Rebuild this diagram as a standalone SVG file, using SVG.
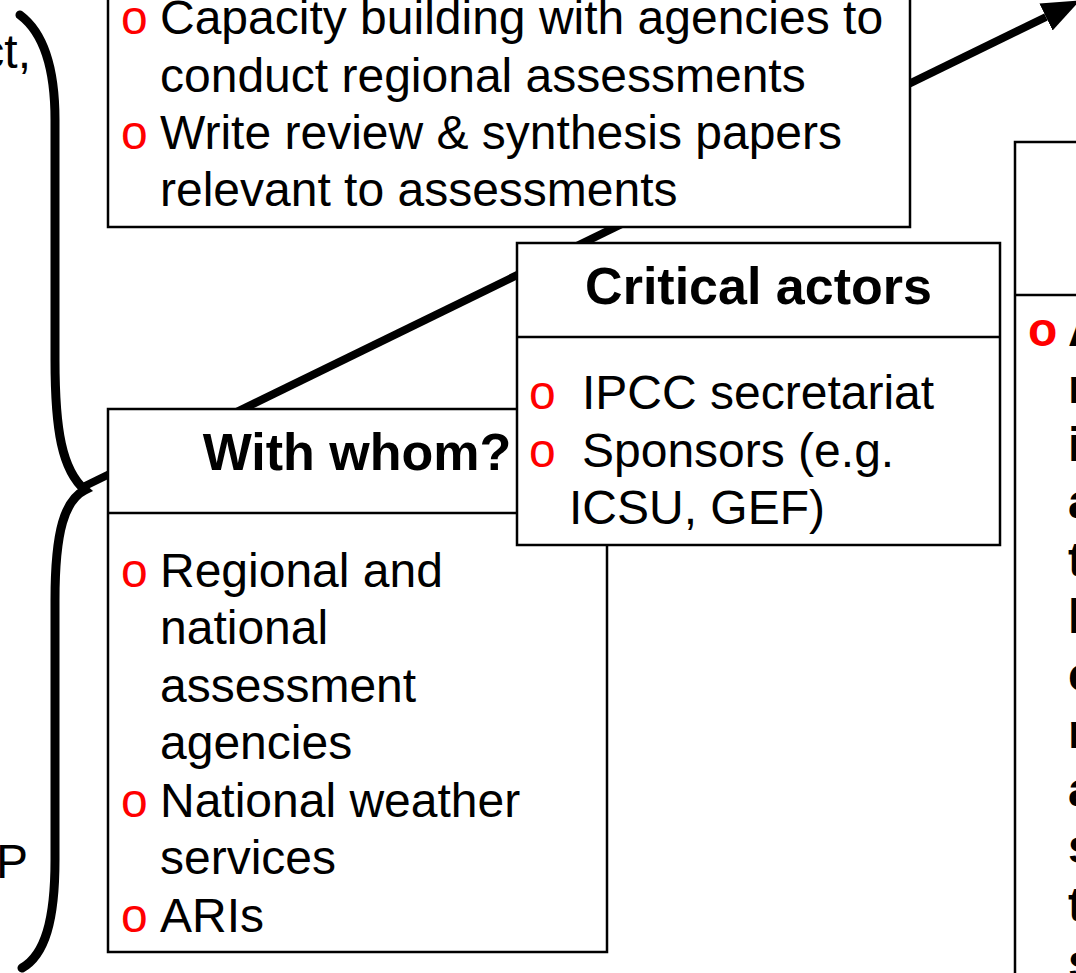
<svg xmlns="http://www.w3.org/2000/svg" width="1076" height="973" viewBox="0 0 1076 973">
<style>
.box{fill:#fff;stroke:#000;stroke-width:2.5}
.t{font-family:"Liberation Sans",Arial,sans-serif;font-size:48px;fill:#000}
.h{font-family:"Liberation Sans",Arial,sans-serif;font-size:52px;font-weight:bold;fill:#000;text-anchor:middle}
.b{font-family:"Liberation Sans",Arial,sans-serif;font-size:48px;fill:#f00}
.bold{font-weight:bold}
.brace{fill:none;stroke:#000;stroke-width:9;stroke-linecap:round}
</style>
<defs>
<marker id="ah" markerUnits="userSpaceOnUse" markerWidth="60" markerHeight="60" viewBox="0 -30 60 60" refX="0" refY="0" orient="auto">
<path d="M0,-15 L38,0 L0,15 z" fill="#000"/>
</marker>
</defs>
<g id="side-text">
<text class="t" x="31" y="68" text-anchor="end">ct,</text>
<text class="t" x="-4" y="878">P</text>
</g>
<g id="connectors">
<path class="brace" d="M20,15 C40,30 55,60 55,120 L55,360 C55,430 62,470 85,490 C65,500 55,530 55,600 L55,860 C55,920 45,955 22,968"/>
<line x1="85" y1="486" x2="1046" y2="17" stroke="#000" stroke-width="8" marker-end="url(#ah)"/>
</g>
<g id="capacity">
<rect class="box" x="108" y="-5" width="802" height="232"/>
<text class="b" x="121" y="34">o</text>
<text class="t" x="160" y="34">Capacity building with agencies to</text>
<text class="t" x="160" y="92">conduct regional assessments</text>
<text class="b" x="121" y="149">o</text>
<text class="t" x="160" y="149">Write review &amp; synthesis papers</text>
<text class="t" x="160" y="206">relevant to assessments</text>
</g>
<g id="with-whom">
<rect class="box" x="108" y="409" width="499" height="543"/>
<line x1="108" y1="513" x2="607" y2="513" stroke="#000" stroke-width="2.5"/>
<text class="h" x="357" y="470">With whom?</text>
<text class="b" x="121" y="587">o</text>
<text class="t" x="160" y="587">Regional and</text>
<text class="t" x="160" y="644">national</text>
<text class="t" x="160" y="702">assessment</text>
<text class="t" x="160" y="759">agencies</text>
<text class="b" x="121" y="817">o</text>
<text class="t" x="160" y="817">National weather</text>
<text class="t" x="160" y="874">services</text>
<text class="b" x="121" y="932">o</text>
<text class="t" x="160" y="932">ARIs</text>
</g>
<g id="critical-actors">
<rect class="box" x="517" y="243" width="483" height="302"/>
<line x1="517" y1="337" x2="1000" y2="337" stroke="#000" stroke-width="2.5"/>
<text class="h" x="758.5" y="304">Critical actors</text>
<text class="b" x="529" y="409">o</text>
<text class="t" x="582" y="409">IPCC secretariat</text>
<text class="b" x="529" y="467">o</text>
<text class="t" x="582" y="467">Sponsors (e.g.</text>
<text class="t" x="569" y="524">ICSU, GEF)</text>
</g>
<g id="right-box">
<rect class="box" x="1015" y="142" width="100" height="860"/>
<line x1="1015" y1="295" x2="1076" y2="295" stroke="#000" stroke-width="2.5"/>
<text class="b bold" x="1028" y="346">o</text>
<text class="t bold" x="1068" y="346">A</text>
<text class="t bold" x="1068" y="403">r</text>
<text class="t bold" x="1068" y="461">i</text>
<text class="t bold" x="1068" y="518">a</text>
<text class="t bold" x="1068" y="576">t</text>
<text class="t bold" x="1068" y="633">h</text>
<text class="t bold" x="1068" y="691">c</text>
<text class="t bold" x="1068" y="748">r</text>
<text class="t bold" x="1068" y="806">a</text>
<text class="t bold" x="1068" y="863">s</text>
<text class="t bold" x="1068" y="921">t</text>
<text class="t bold" x="1068" y="978">s</text>
</g>
</svg>
